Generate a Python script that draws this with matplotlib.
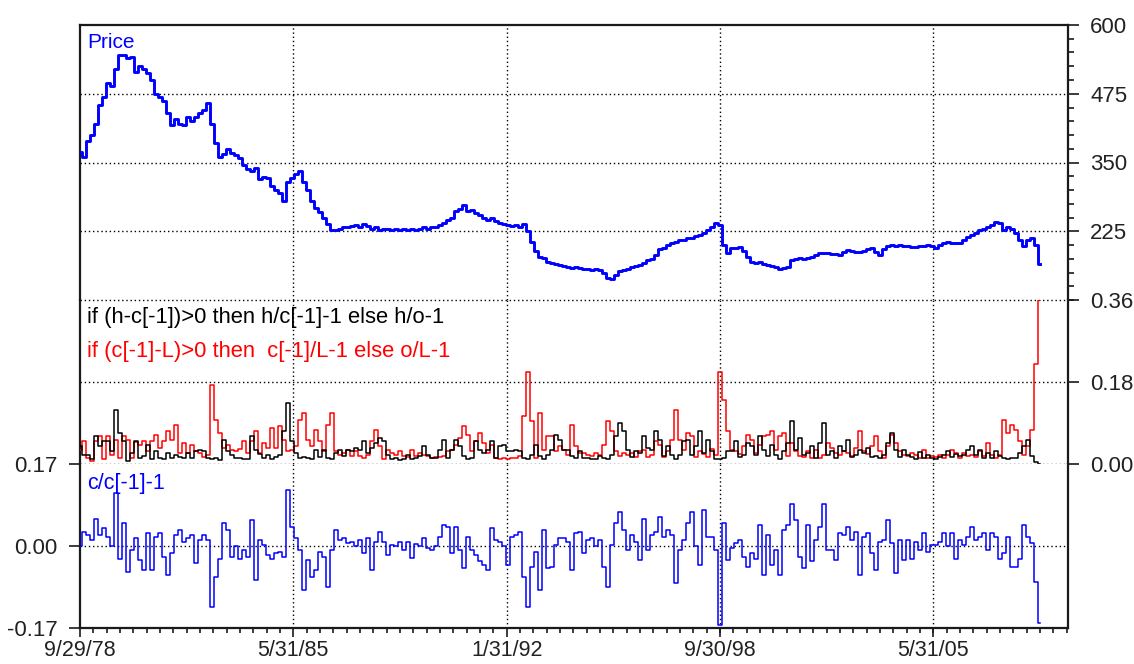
import matplotlib
matplotlib.use('Agg')
import matplotlib.pyplot as plt
import matplotlib.dates as mdates
import matplotlib.ticker as mticker
import numpy as np
import pandas as pd

plt.rcParams['font.family'] = ['Liberation Sans', 'DejaVu Sans']

# ---------------- data ----------------
start_date = '1978-09-29'
end_date = '2008-09-29'

price = [
    370, 360, 390, 400, 420, 455, 470, 495, 490, 520, 545, 545, 540, 542, 515, 525,
    520, 512, 500, 475, 470, 462, 440, 418, 430, 420, 418, 432, 425, 432, 440, 445,
    458, 420, 385, 360, 365, 375, 368, 364, 358, 345, 338, 335, 340, 320, 323, 322,
    308, 300, 294, 280, 315, 322, 330, 334, 315, 300, 280, 268, 260, 250, 238, 228,
    227, 230, 233, 232, 235, 236, 233, 238, 235, 230, 232, 228, 230, 229, 228, 230,
    228, 230, 227, 229, 228, 230, 232, 230, 233, 232, 236, 240, 245, 250, 262, 266,
    272, 262, 264, 258, 255, 250, 246, 250, 244, 240, 238, 236, 234, 236, 232, 238,
    225, 205, 190, 178, 176, 170, 168, 166, 163, 162, 160, 158, 160, 158, 157, 156,
    155, 156, 155, 150, 140, 138, 145, 152, 155, 157, 160, 162, 164, 168, 172, 175,
    182, 192, 195, 200, 203, 205, 209, 210, 212, 213, 216, 218, 222, 227, 233, 240,
    236, 200, 185, 194, 195, 196, 190, 178, 170, 167, 169, 166, 164, 162, 160, 156,
    158, 160, 172, 174, 176, 175, 177, 178, 182, 185, 186, 185, 184, 183, 182, 188,
    191, 190, 188, 187, 190, 192, 194, 188, 182, 192, 198, 200, 199, 200, 199, 198,
    197, 196, 198, 199, 200, 198, 195, 200, 203, 205, 204, 204, 204, 210, 214, 218,
    222, 227, 230, 233, 236, 242, 240, 228, 233, 230, 222, 210, 198, 210, 213, 200,
    165,
]

high_ratio = [
    0.039, 0.020, 0.020, 0.010, 0.061, 0.039, 0.050, 0.050, 0.028, 0.119, 0.068, 0.050, 0.006, 0.024, 0.050, 0.013,
    0.017, 0.042, 0.010, 0.028, 0.013, 0.010, 0.024, 0.013, 0.020, 0.015, 0.013, 0.024, 0.013, 0.028, 0.031, 0.028,
    0.013, 0.011, 0.013, 0.008, 0.053, 0.028, 0.020, 0.013, 0.013, 0.010, 0.010, 0.061, 0.031, 0.023, 0.013, 0.020,
    0.010, 0.015, 0.020, 0.072, 0.134, 0.050, 0.024, 0.013, 0.015, 0.013, 0.011, 0.031, 0.015, 0.030, 0.013, 0.010,
    0.024, 0.031, 0.017, 0.031, 0.028, 0.035, 0.031, 0.050, 0.024, 0.035, 0.046, 0.057, 0.050, 0.020, 0.010, 0.013,
    0.008, 0.011, 0.020, 0.010, 0.013, 0.017, 0.039, 0.020, 0.013, 0.013, 0.031, 0.052, 0.013, 0.031, 0.052, 0.039,
    0.017, 0.010, 0.013, 0.050, 0.031, 0.024, 0.031, 0.050, 0.013, 0.039, 0.042, 0.028, 0.028, 0.031, 0.028, 0.013,
    0.010, 0.020, 0.042, 0.017, 0.010, 0.020, 0.031, 0.064, 0.053, 0.031, 0.031, 0.017, 0.013, 0.028, 0.013, 0.013,
    0.010, 0.011, 0.017, 0.013, 0.010, 0.020, 0.061, 0.090, 0.072, 0.031, 0.015, 0.028, 0.024, 0.061, 0.035, 0.030,
    0.072, 0.053, 0.017, 0.040, 0.020, 0.011, 0.020, 0.050, 0.053, 0.020, 0.039, 0.072, 0.024, 0.053, 0.028, 0.011,
    0.011, 0.013, 0.028, 0.028, 0.050, 0.015, 0.020, 0.046, 0.039, 0.020, 0.061, 0.031, 0.017, 0.042, 0.020, 0.011,
    0.028, 0.046, 0.094, 0.031, 0.057, 0.020, 0.024, 0.039, 0.013, 0.046, 0.090, 0.020, 0.028, 0.013, 0.040, 0.028,
    0.053, 0.015, 0.020, 0.031, 0.024, 0.035, 0.015, 0.017, 0.013, 0.020, 0.046, 0.068, 0.031, 0.015, 0.030, 0.020,
    0.015, 0.010, 0.026, 0.013, 0.020, 0.013, 0.011, 0.015, 0.020, 0.028, 0.015, 0.023, 0.017, 0.020, 0.030, 0.039,
    0.020, 0.031, 0.013, 0.024, 0.013, 0.028, 0.018, 0.013, 0.010, 0.013, 0.013, 0.024, 0.039, 0.053, 0.017, 0.005,
    0.000,
]

low_ratio = [
    0.031, 0.050, 0.013, 0.006, 0.050, 0.061, 0.010, 0.061, 0.020, 0.053, 0.013, 0.061, 0.053, 0.013, 0.048, 0.042,
    0.050, 0.028, 0.050, 0.064, 0.035, 0.050, 0.072, 0.053, 0.086, 0.024, 0.046, 0.024, 0.042, 0.028, 0.024, 0.015,
    0.020, 0.174, 0.097, 0.068, 0.035, 0.042, 0.031, 0.028, 0.033, 0.050, 0.024, 0.050, 0.072, 0.024, 0.046, 0.035,
    0.079, 0.035, 0.083, 0.053, 0.028, 0.031, 0.039, 0.097, 0.112, 0.053, 0.039, 0.075, 0.050, 0.028, 0.086, 0.112,
    0.028, 0.020, 0.024, 0.031, 0.018, 0.028, 0.017, 0.013, 0.020, 0.050, 0.075, 0.039, 0.011, 0.031, 0.024, 0.020,
    0.028, 0.018, 0.015, 0.031, 0.017, 0.024, 0.020, 0.017, 0.013, 0.015, 0.015, 0.017, 0.028, 0.031, 0.042, 0.057,
    0.083, 0.064, 0.028, 0.050, 0.068, 0.046, 0.024, 0.042, 0.013, 0.010, 0.013, 0.010, 0.013, 0.013, 0.017, 0.105,
    0.203, 0.094, 0.013, 0.112, 0.031, 0.061, 0.061, 0.028, 0.039, 0.031, 0.020, 0.086, 0.039, 0.024, 0.024, 0.020,
    0.017, 0.024, 0.020, 0.042, 0.094, 0.072, 0.028, 0.017, 0.024, 0.020, 0.024, 0.015, 0.028, 0.030, 0.015, 0.020,
    0.050, 0.042, 0.015, 0.028, 0.053, 0.119, 0.053, 0.031, 0.068, 0.061, 0.015, 0.028, 0.023, 0.015, 0.033, 0.020,
    0.203, 0.141, 0.072, 0.030, 0.028, 0.023, 0.039, 0.064, 0.053, 0.024, 0.042, 0.061, 0.064, 0.072, 0.031, 0.061,
    0.068, 0.017, 0.046, 0.028, 0.018, 0.015, 0.028, 0.013, 0.031, 0.013, 0.020, 0.046, 0.035, 0.024, 0.020, 0.028,
    0.024, 0.017, 0.035, 0.072, 0.028, 0.023, 0.039, 0.061, 0.028, 0.013, 0.039, 0.064, 0.046, 0.028, 0.020, 0.018,
    0.024, 0.020, 0.013, 0.031, 0.013, 0.017, 0.015, 0.020, 0.013, 0.020, 0.030, 0.024, 0.013, 0.024, 0.017, 0.020,
    0.015, 0.028, 0.018, 0.046, 0.020, 0.013, 0.020, 0.097, 0.068, 0.086, 0.075, 0.050, 0.020, 0.040, 0.075, 0.220,
    0.360,
]

close_return = [
    -0.001, 0.030, 0.023, 0.012, 0.057, 0.023, 0.037, 0.019, -0.001, 0.109, -0.026, 0.047, -0.053, -0.008, 0.016, -0.029,
    -0.050, 0.026, -0.050, 0.019, 0.026, -0.022, -0.060, -0.015, 0.023, 0.033, 0.009, 0.016, 0.023, -0.036, 0.012, 0.023,
    0.012, -0.126, -0.064, -0.026, 0.047, 0.033, -0.022, -0.001, -0.026, -0.008, -0.022, 0.054, -0.070, 0.012, 0.002, -0.019,
    -0.026, -0.015, -0.012, -0.022, 0.116, 0.040, 0.016, -0.008, -0.091, -0.029, -0.064, -0.050, -0.012, -0.022, -0.084, -0.008,
    0.033, 0.012, 0.016, 0.006, 0.009, -0.001, 0.012, -0.015, 0.016, -0.050, 0.009, 0.030, 0.009, -0.019, 0.002, -0.001,
    0.009, -0.008, 0.009, -0.024, 0.004, 0.000, 0.016, -0.005, -0.008, -0.001, 0.019, 0.044, 0.039, -0.015, 0.040, -0.008,
    -0.046, 0.019, -0.008, -0.019, -0.032, -0.039, -0.050, 0.037, 0.012, 0.009, -0.001, -0.039, 0.019, 0.023, 0.030, -0.064,
    -0.126, -0.043, -0.012, -0.091, 0.033, -0.046, -0.043, 0.002, 0.016, 0.016, 0.009, -0.050, 0.026, 0.030, -0.015, 0.012,
    0.016, -0.001, 0.012, -0.043, -0.084, 0.002, 0.047, 0.071, 0.033, -0.008, 0.023, 0.009, -0.029, 0.057, -0.008, 0.023,
    0.030, 0.061, 0.019, 0.033, 0.023, -0.077, -0.008, 0.012, 0.047, 0.071, -0.001, -0.039, 0.075, 0.019, 0.019, -0.008,
    -0.164, 0.047, -0.030, -0.005, 0.006, 0.012, -0.022, -0.043, -0.015, -0.026, 0.044, -0.060, 0.023, -0.039, -0.008, -0.060,
    0.033, 0.044, 0.088, 0.054, -0.022, -0.046, 0.044, -0.032, 0.012, 0.040, 0.088, -0.008, -0.008, -0.029, 0.026, 0.023,
    0.040, 0.012, 0.030, -0.060, 0.019, 0.026, -0.015, -0.050, 0.009, 0.012, 0.054, 0.006, -0.057, 0.012, -0.029, 0.012,
    -0.026, 0.009, -0.008, 0.026, -0.012, 0.002, 0.002, 0.009, 0.026, -0.001, 0.026, -0.026, 0.012, 0.002, 0.019, 0.040,
    0.012, 0.019, 0.026, -0.008, 0.026, 0.019, -0.026, -0.015, 0.019, -0.043, -0.043, -0.026, 0.044, 0.019, 0.006, -0.075,
    -0.160,
]

x_tick_dates = ['1978-09-29', '1985-05-31', '1992-01-31', '1998-09-30', '2005-05-31']
x_tick_labels = ['9/29/78', '5/31/85', '1/31/92', '9/30/98', '5/31/05']
x_right_limit = '2009-08-19'

price_ticks = [600, 475, 350, 225]
price_range = (100, 600)
mid_ticks = [0.36, 0.18, 0.00]
mid_labels = ['0.36', '0.18', '0.00']
ret_ticks = [0.17, 0.00, -0.17]
ret_labels = ['0.17', '0.00', '-0.17']

label_price = 'Price'
label_high = 'if (h-c[-1])>0 then h/c[-1]-1 else h/o-1'
label_low = 'if (c[-1]-L)>0 then  c[-1]/L-1 else o/L-1'
label_ret = 'c/c[-1]-1'

# ---------------- figure ----------------
dates = pd.date_range(start_date, end_date, periods=len(price))

W_PX, H_PX = 1134, 664
fig = plt.figure(figsize=(W_PX / 100, H_PX / 100), dpi=100)
fig.patch.set_facecolor('white')

def box(top, bottom, left=80, right=1068):
    return [left / W_PX, 1 - bottom / H_PX, (right - left) / W_PX, (bottom - top) / H_PX]

ax1 = fig.add_axes(box(25, 300))
ax2 = fig.add_axes(box(300, 464), sharex=ax1)
ax3 = fig.add_axes(box(464, 628), sharex=ax1)

BLUE = '#0000ff'
RED = '#ff0000'
SPINE = '#1a1a1a'
LABEL = '#222222'
dot = (0, (1, 2))

ax1.plot(dates, price, color=BLUE, lw=2.1, drawstyle='steps-mid', zorder=3)
ax2.plot(dates, low_ratio, color=RED, lw=1.1, drawstyle='steps-mid', zorder=3)
ax2.plot(dates, high_ratio, color='black', lw=1.1, drawstyle='steps-mid', zorder=4)
ax3.plot(dates, close_return, color=BLUE, lw=1.1, drawstyle='steps-mid', zorder=3)

major_x = [mdates.date2num(pd.Timestamp(d)) for d in x_tick_dates]
xl = (major_x[0], mdates.date2num(pd.Timestamp(x_right_limit)))
minor_step = (major_x[1] - major_x[0]) / 16
minor_x = np.arange(major_x[0], xl[1] + 1, minor_step)

for ax in (ax1, ax2, ax3):
    ax.set_xlim(*xl)
    ax.set_facecolor('white')
    for s in ax.spines.values():
        s.set_color(SPINE)
        s.set_linewidth(1.6)
    for xv in major_x[1:]:
        ax.axvline(xv, color='black', lw=1.0, ls=dot, zorder=1)
    ax.tick_params(axis='x', which='both', bottom=False, labelbottom=False, top=False)

# price panel
ax1.set_ylim(*price_range)
ax1.yaxis.tick_right()
ax1.set_yticks(price_ticks)
ax1.set_yticklabels([str(t) for t in price_ticks])
ax1.yaxis.set_minor_locator(mticker.MultipleLocator(25))
ax1.spines['bottom'].set_visible(False)
for yv in price_ticks[1:]:
    ax1.axhline(yv, color='black', lw=1.0, ls=dot, zorder=1)

# middle panel
ax2.set_ylim(0, 0.36)
ax2.yaxis.tick_right()
ax2.set_yticks(mid_ticks)
ax2.set_yticklabels(mid_labels)
ax2.spines['top'].set_visible(False)
ax2.spines['bottom'].set_visible(False)
for yv in mid_ticks:
    ax2.axhline(yv, color='black', lw=1.0, ls=dot, zorder=1, clip_on=False)

# bottom panel
ax3.set_ylim(-0.17, 0.17)
ax3.yaxis.tick_left()
ax3.set_yticks(ret_ticks)
ax3.set_yticklabels(ret_labels)
ax3.spines['top'].set_visible(False)
ax3.axhline(0.0, color='black', lw=1.0, ls=dot, zorder=1)

for ax in (ax1, ax2, ax3):
    ax.tick_params(axis='y', which='both', direction='out', color=SPINE, width=1.2,
                   labelsize=16, labelcolor=LABEL)
    ax.tick_params(axis='y', which='major', length=8, pad=8)
    ax.tick_params(axis='y', which='minor', length=4)

ax3.set_xticks(major_x)
ax3.set_xticklabels(x_tick_labels)
ax3.set_xticks(minor_x, minor=True)
ax3.tick_params(axis='x', which='both', bottom=True, labelbottom=True, direction='out',
                color=SPINE, width=1.2, labelsize=15.5, labelcolor=LABEL)
ax3.tick_params(axis='x', which='major', length=6.5, pad=2)
ax3.tick_params(axis='x', which='minor', length=3.5)

# in-panel labels
fig.text(87 / W_PX, 1 - 43 / H_PX, label_price, color=BLUE, fontsize=15, va='center', ha='left')
fig.text(87 / W_PX, 1 - 318 / H_PX, label_high, color='black', fontsize=15.8, va='center', ha='left')
fig.text(87 / W_PX, 1 - 352 / H_PX, label_low, color=RED, fontsize=15.8, va='center', ha='left')
fig.text(87 / W_PX, 1 - 483 / H_PX, label_ret, color=BLUE, fontsize=15.5, va='center', ha='left')

fig.savefig('out.png', dpi=100, facecolor='white')
